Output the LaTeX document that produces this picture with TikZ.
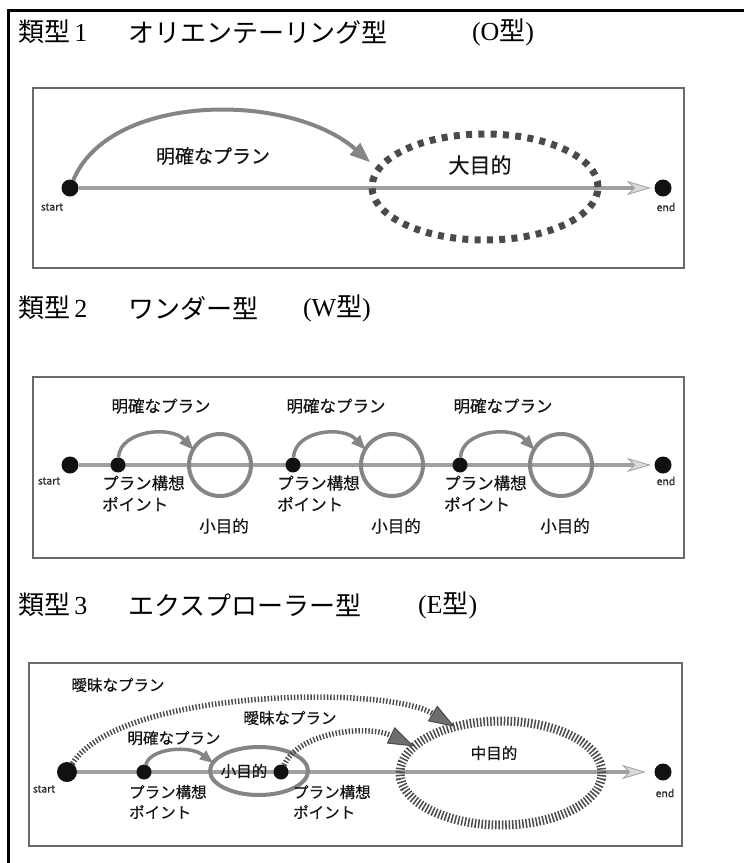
\documentclass[tikz,border=0pt]{standalone}
\usepackage{fontspec}
\setmainfont{Noto Sans CJK JP}
\newfontfamily\serifL{Liberation Serif}
\newfontfamily\gothic[FakeBold=0.5]{Noto Sans CJK JP}
\usetikzlibrary{arrows.meta,shapes.geometric}
\pgfdeclarelayer{bg}
\pgfsetlayers{bg,main}
\definecolor{lineg}{HTML}{A0A0A0}
\definecolor{tipfill}{HTML}{D9D9D9}
\definecolor{arcg}{HTML}{858585}
\definecolor{dashg}{HTML}{4A4A4A}
\definecolor{tipdark}{HTML}{6E6E6E}
\definecolor{boxg}{HTML}{6A6A6A}
\definecolor{dotc}{HTML}{111111}
\definecolor{textc}{HTML}{151515}
\tikzset{
  head/.style={font=\fontsize{26}{30}\selectfont, anchor=west, inner sep=0pt, outer sep=0pt},
  panel/.style={draw=boxg, line width=1.6pt},
  dot/.style={circle, fill=dotc, inner sep=0pt, outer sep=0pt},
  sdot/.style={dot, minimum size=15pt},
  tiny/.style={font=\gothic\fontsize{10.5}{12}\selectfont, inner sep=0pt, text=black!85},
  lab/.style={inner sep=0pt, text=textc},
  labA/.style={lab, font=\gothic\fontsize{19}{22}\selectfont},
  labB/.style={lab, font=\gothic\fontsize{21}{24}\selectfont},
  labC/.style={lab, font=\gothic\fontsize{16.5}{19}\selectfont},
  labD/.style={lab, font=\gothic\fontsize{15.5}{18}\selectfont},
  mainline/.style={draw=lineg, line width=4.5pt, -{Stealth[length=24pt,width=14pt,inset=7pt,fill=tipfill,line width=0.8pt]}},
  arcA/.style={draw=arcg, line width=4pt, -{Triangle[length=20pt,width=16pt,fill=arcg,line width=1pt]}},
  arcB/.style={draw=arcg, line width=3.5pt, -{Triangle[length=14pt,width=12pt,fill=arcg,line width=1pt]}},
  arcC/.style={draw=arcg, line width=3.5pt, -{Triangle[length=13pt,width=11pt,fill=arcg,line width=1pt]}},
  dotarc/.style={draw=dashg, line width=5.5pt, dash pattern=on 1.4pt off 1.9pt, -{Triangle[length=26pt,width=18pt,fill=tipdark,line width=1pt]}},
  bigdash/.style={ellipse, draw=dashg, line width=7pt, dash pattern=on 6pt off 6.3pt, minimum width=226pt, minimum height=106pt, inner sep=0pt, outer sep=0pt},
  tickell/.style={ellipse, draw=dashg, line width=9pt, dash pattern=on 1.5pt off 1.9pt, minimum width=202pt, minimum height=104pt, inner sep=0pt, outer sep=0pt},
  ring/.style={circle, draw=arcg, line width=4pt, minimum size=62pt, inner sep=0pt, outer sep=0pt},
  smallell/.style={ellipse, draw=arcg, line width=4pt, minimum width=98pt, minimum height=48pt, inner sep=0pt, outer sep=0pt}
}
\begin{document}
\begin{tikzpicture}[x=1pt,y=-1pt]
\useasboundingbox (0,0) rectangle (744,863);
\draw[line width=3pt] (8,863) -- (8,10) -- (744,10);

% headings
\node[head] (h1a) at (18,32) {類型{\serifL\,1}};
\node[head] (h1b) at (128,32) {オリエンテーリング型};
\node[head] (h1c) at (472,32) {{\serifL(O}型{\serifL)}};
\node[head] (h2a) at (18,308) {類型{\serifL\,2}};
\node[head] (h2b) at (128,308) {ワンダー型};
\node[head] (h2c) at (303,308) {{\serifL(W}型{\serifL)}};
\node[head] (h3a) at (18,605) {類型{\serifL\,3}};
\node[head] (h3b) at (128,605) {エクスプローラー型};
\node[head] (h3c) at (418,605) {{\serifL(E}型{\serifL)}};

% panel frames
\draw[panel] (33,88) rectangle (684,268);
\draw[panel] (33,377) rectangle (684,558);
\draw[panel] (29,663) rectangle (682,846);

% ---------- panel 1 ----------
\node[dot, minimum size=17pt] (S1) at (70,188) {};
\node[dot, minimum size=17pt] (E1) at (663,188) {};
\node[tiny] (s1l) at (52,207) {start};
\node[tiny] (e1l) at (666,207) {end};
\node[bigdash] (G1) at (485,187) {};
\coordinate (A1) at (651,188);
\coordinate (T1) at (370,162);
\node[labA] (L11) at (213,156) {明確なプラン};
\node[labB] (L12) at (480,165) {大目的};
\draw[arcA] (S1) .. controls (110,92) and (290,92) .. (T1);
\begin{pgfonlayer}{bg}
\draw[mainline] (S1) -- (A1);
\end{pgfonlayer}

% ---------- panel 2 ----------
\node[dot, minimum size=17pt] (S2) at (70,465) {};
\node[dot, minimum size=17pt] (E2) at (663,465) {};
\node[tiny] (s2l) at (49,481) {start};
\node[tiny] (e2l) at (666,481) {end};
\coordinate (A2) at (651,465);
\foreach \i/\px/\cx in {1/118/220, 2/293/392, 3/460/561}{
  \node[sdot] (P2\i) at (\px,465) {};
  \node[ring] (C2\i) at (\cx,465) {};
  \draw[arcB] (P2\i) .. controls +(2,-35) and +(-22,-24) .. (C2\i.150);
  \node[labC] (M2\i) at (\px+43,406) {明確なプラン};
  \node[labC, anchor=west] (K2\i) at (\px-16,483) {プラン構想};
  \node[labC, anchor=west] (N2\i) at (\px-16,504) {ポイント};
  \node[labC] (Q2\i) at (\cx+4,526) {小目的};
}
\begin{pgfonlayer}{bg}
\draw[mainline] (S2) -- (A2);
\end{pgfonlayer}

% ---------- panel 3 ----------
\node[dot, minimum size=20pt] (S3) at (67,772) {};
\node[dot, minimum size=17pt] (E3) at (663,772) {};
\node[tiny] (s3l) at (44,789) {start};
\node[tiny] (e3l) at (665,793) {end};
\coordinate (A3) at (646,772);
\node[tickell] (G3) at (501,773) {};
\node[smallell] (g3) at (259,771) {};
\node[sdot] (P31) at (144,772) {};
\node[sdot] (P32) at (281,772) {};
\node[labD] (L31) at (118,685) {曖昧なプラン};
\node[labD] (L32) at (290,718) {曖昧なプラン};
\node[labD] (L33) at (174,738) {明確なプラン};
\node[labD] (L34) at (494,753) {中目的};
\node[labD] (L35) at (244,771) {小目的};
\node[labD, anchor=west] (K31) at (129,792) {プラン構想};
\node[labD, anchor=west] (N31) at (129,812) {ポイント};
\node[labD, anchor=west] (K32) at (293,792) {プラン構想};
\node[labD, anchor=west] (N32) at (293,812) {ポイント};
\draw[dotarc] (S3) .. controls +(53,-83) and +(-70,-42) .. (G3.135);
\draw[dotarc] (P32) .. controls +(19,-42) and +(-44,-21) .. (G3.163);
\draw[arcC] (P31) .. controls +(6,-24) and +(-23,-18) .. (g3.170);
\begin{pgfonlayer}{bg}
\draw[mainline] (S3) -- (A3);
\end{pgfonlayer}
\end{tikzpicture}
\end{document}
